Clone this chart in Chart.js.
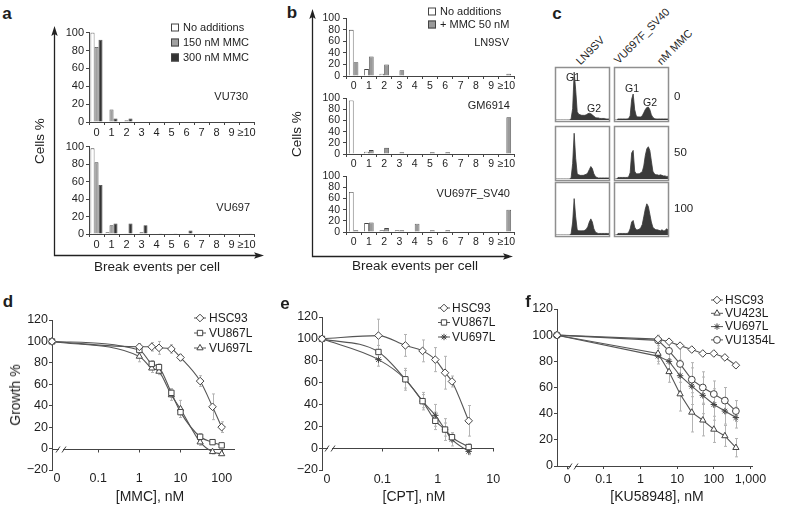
<!DOCTYPE html>
<html><head><meta charset="utf-8">
<script src="https://cdn.jsdelivr.net/npm/chart.js@4.4.1/dist/chart.umd.min.js"></script>
<style>
html,body{margin:0;padding:0;background:#fff;}
#fig{position:relative;width:788px;height:512px;overflow:hidden;font-family:"Liberation Sans",Arial,sans-serif;color:#1e1e1e;}
#fig canvas{position:absolute;}
.t{position:absolute;white-space:nowrap;line-height:1;}
.sw{display:inline-block;width:6px;height:6px;border:1px solid #444;margin-right:4px;vertical-align:-1px;}
</style></head><body><div id="fig"></div>
<script>
// ================= DATA =================
// Panels a & b: break events per cell (Cells %)
const breakCats = ['0','1','2','3','4','5','6','7','8','9','≥10'];
const aSeriesNames = ['No additions','150 nM MMC','300 nM MMC'];
const vu730NoAdd  = [100,0,0,0,0,0,0,0,0,0,0];
const vu730Mmc150 = [84,14,2,0,0,0,0,0,0,0,0];
const vu730Mmc300 = [92,4,4,0,0,0,0,0,0,0,0];
const vu697NoAdd  = [98,2,0,0,0,0,0,0,0,0,0];
const vu697Mmc150 = [82,10,1,2,0,0,0,0,0,0,1];
const vu697Mmc300 = [56,12,12,10,1,1,4,0,1,0,1];

const bSeriesNames = ['No additions','+ MMC 50 nM'];
const ln9svNoAdd   = [80,12,4,0,1,0,0,0,0,0,1];
const ln9svMmc50   = [24,34,20,10,1,1,0,1,1,0,4];
const gm6914NoAdd  = [96,4,0,0,0,0,0,0,0,0,0];
const gm6914Mmc50  = [0,7,11,3,1,3,3,0,0,0,66];
const vu697fNoAdd  = [72,16,3,3,1,0,0,0,0,0,1];
const vu697fMmc50  = [3,17,7,3,15,3,3,1,0,0,40];
const pctTicks = [0,20,40,60,80,100];

// Panel c: DNA content histograms (relative counts, 36 bins)
const cCellLines = ['LN9SV','VU697F_SV40'];
const cDoses = ['0','50','100'];
const histLn9sv0    = [0,0,0,0,0,0,0,0,0,0,3,22,92,58,16,11,10,9,9,9,10,12,13,12,10,7,5,4,4,3,3,3,3,2,2,2];
const histVu697f0   = [0,0,2,2,2,2,2,2,2,3,8,40,50,20,8,6,6,6,8,14,20,24,25,20,10,5,3,2,2,2,2,2,2,2,2,2];
const histLn9sv50   = [0,0,0,0,0,0,0,0,0,0,3,30,88,40,10,8,7,7,7,8,9,12,18,24,20,10,5,3,2,2,2,2,2,2,2,2];
const histVu697f50  = [0,0,3,3,3,3,3,3,3,4,12,50,55,15,10,10,10,12,14,25,45,58,62,55,35,15,10,8,8,7,8,7,6,6,5,5];
const histLn9sv100  = [0,0,0,0,0,0,0,0,0,0,3,25,70,35,10,8,8,8,8,9,11,16,25,31,25,12,6,4,3,3,3,3,3,3,3,3];
const histVu697f100 = [0,0,3,3,3,3,3,3,3,5,12,25,28,15,10,10,11,14,20,35,50,60,55,40,25,15,12,10,10,9,8,10,8,8,12,10];

// Panel d: MMC
const mmcDoses   = [0,1,2,3,6,10,30,60,100];
const mmcHSC93   = [100,95,95,94,93,85,63,39,20];
const mmcHSC93E  = [0,3,4,6,4,3,5,12,5];
const mmcVU867L  = [100,92,79,76,52,34,11,6,3];
const mmcVU867LE = [0,4,3,3,4,5,3,2,2];
const mmcVU697L  = [100,86,75,72,50,37,6,-3,-5];
const mmcVU697LE = [0,5,4,3,5,8,3,2,1];
const dTickVals = [0.01,0.1,1,10,100];
const dTickLabels = ['0','0.1','1','10','100'];

// Panel e: CPT
const cptDoses   = [0,0.085,0.26,0.53,0.9,1.35,1.8,3.6];
const cptHSC93   = [100,103,94,89,81,69,61,25];
const cptHSC93E  = [0,15,10,10,11,15,5,14];
const cptVU867L  = [100,88,63,43,25,17,10,1];
const cptVU867LE = [0,6,10,8,8,6,4,3];
const cptVU697L  = [100,81,63,43,30,17,8,-3];
const cptVU697LE = [0,6,8,6,10,10,6,3];
const eTickVals = [0.01,0.1,1,10];
const eTickLabels = ['0','0.1','1','10'];

// Panel f: KU58948
const kuDoses     = [0,3,6,12,25,50,100,200,400];
const kuHSC93     = [100,97,95,92,89,86,86,83,77];
const kuHSC93E    = [0,2,1,1,1,1,1,1,1];
const kuVU423L    = [100,86,72,55,41,35,28,23,14];
const kuVU423LE   = [0,6,8,13,15,12,10,8,7];
const kuVU697L    = [100,84,80,69,61,54,47,42,37];
const kuVU697LE   = [0,6,7,12,14,14,12,10,8];
const kuVU1354L   = [100,96,88,78,66,60,55,50,42];
const kuVU1354LE  = [0,4,6,14,13,12,10,10,8];
const fTickVals = [0.01,0.1,1,10,100,1000];
const fTickLabels = ['0','0.1','1','10','100','1,000'];

// ================= HELPERS =================
Chart.defaults.font.family = '"Liberation Sans", Arial, sans-serif';
Chart.defaults.color = '#1e1e1e';
const fig = document.getElementById('fig');

function txt(s, x, y, o = {}) {
  const d = document.createElement('div');
  d.className = 't';
  if (o.html) d.innerHTML = s; else d.textContent = s;
  d.style.fontSize = (o.size || 11) + 'px';
  if (o.bold) d.style.fontWeight = 'bold';
  d.style.left = x + 'px'; d.style.top = y + 'px';
  if (o.anchorStart) {
    d.style.transformOrigin = '0 50%';
    d.style.transform = `translate(0,-50%) rotate(${o.rot||0}deg)`;
  } else {
    const tx = o.align === 'center' ? '-50%' : o.align === 'right' ? '-100%' : '0';
    d.style.transform = `translate(${tx},-50%)` + (o.rot ? ` rotate(${o.rot}deg)` : '');
  }
  fig.appendChild(d);
  return d;
}

function place(area, pad) {
  const c = document.createElement('canvas');
  const w = pad.yw + (area[2] - area[0]) + pad.pr;
  const h = pad.pt + (area[3] - area[1]) + pad.xh;
  c.width = w; c.height = h;
  c.style.left = (area[0] - pad.yw) + 'px';
  c.style.top = (area[1] - pad.pt) + 'px';
  c.style.width = w + 'px'; c.style.height = h + 'px';
  fig.appendChild(c);
  return c;
}

function baseOpts(pad) {
  return {
    responsive: false, animation: false, devicePixelRatio: 1,
    layout: { padding: { left: 0, top: pad.pt, right: pad.pr, bottom: 0 }, autoPadding: false },
    plugins: { legend: { display: false }, tooltip: { enabled: false } },
    events: []
  };
}

// ---------- bar charts (a, b) ----------
function barChart(area, pad, series, fills, catPct, fontSize) {
  const c = place(area, pad);
  const o = baseOpts(pad);
  o.scales = {
    x: {
      grid: { display: true, drawOnChartArea: false, drawTicks: true, tickLength: 3, color: '#444', offset: true },
      border: { display: true, color: '#444', width: 1 },
      ticks: { font: { size: fontSize }, color: '#1e1e1e', padding: 1, maxRotation: 0, autoSkip: false },
      afterFit(s) { s.height = pad.xh; }
    },
    y: {
      min: 0, max: 100,
      afterBuildTicks(s) { s.ticks = pctTicks.map(v => ({ value: v })); },
      ticks: { font: { size: fontSize }, color: '#1e1e1e', padding: pad.tp, autoSkip: false },
      grid: { drawOnChartArea: false, drawTicks: true, tickLength: 3, color: '#444' },
      border: { display: true, color: '#444', width: 1 },
      afterFit(s) { s.width = pad.yw; }
    }
  };
  return new Chart(c, {
    type: 'bar',
    data: {
      labels: breakCats,
      datasets: series.map((d, i) => ({
        data: d, backgroundColor: fills[i], borderColor: '#444', borderWidth: 0.8,
        barPercentage: 1, categoryPercentage: catPct, borderSkipped: 'bottom'
      }))
    },
    options: o
  });
}

const aFills = ['#ffffff', '#a0a0a0', '#333333'];
const bFills = ['#ffffff', '#9a9a9a'];
const aPad = { yw: 30, pt: 8, pr: 4, xh: 18, tp: 2 };
barChart([89, 32, 254, 122], aPad, [vu730NoAdd, vu730Mmc150, vu730Mmc300], aFills, 0.8, 11);
barChart([89, 146, 254, 234], aPad, [vu697NoAdd, vu697Mmc150, vu697Mmc300], aFills, 0.8, 11);
const bPad = { yw: 30, pt: 6, pr: 4, xh: 16, tp: 3 };
barChart([346, 15, 514, 76], bPad, [ln9svNoAdd, ln9svMmc50], bFills, 0.62, 10.5);
barChart([346, 95, 514, 154], bPad, [gm6914NoAdd, gm6914Mmc50], bFills, 0.62, 10.5);
barChart([346, 173, 514, 232], bPad, [vu697fNoAdd, vu697fMmc50], bFills, 0.62, 10.5);

// ---------- histograms (c) ----------
const cBoxX = [555, 614], cBoxY = [67, 126, 182], cBoxW = 55, cBoxH = 55;
const histGrid = [[histLn9sv0, histVu697f0], [histLn9sv50, histVu697f50], [histLn9sv100, histVu697f100]];
histGrid.forEach((row, r) => row.forEach((h, col) => {
  const pad = { yw: 0, pt: 0, pr: 0, xh: 0 };
  const x0 = cBoxX[col] + 1, y0 = cBoxY[r] + 1;
  const c = place([x0, y0, x0 + cBoxW - 2, y0 + cBoxH - 3], pad);
  const o = baseOpts(pad);
  o.scales = {
    x: { type: 'linear', display: false, min: 0, max: h.length - 1, afterFit(s) { s.height = 0; } },
    y: { display: false, min: 0, max: 100, afterFit(s) { s.width = 0; } }
  };
  new Chart(c, {
    type: 'line',
    data: { datasets: [{ data: h.map((v, i) => ({ x: i, y: v })), fill: 'origin', backgroundColor: '#3a3a3a', borderColor: '#3a3a3a', borderWidth: 0.8, pointRadius: 0, tension: 0, clip: false }] },
    options: o
  });
}));

// ---------- line charts (d, e, f) ----------
const errBars = {
  id: 'errBars',
  beforeDatasetsDraw(chart) {
    const { ctx, scales: { x, y } } = chart;
    ctx.save();
    ctx.strokeStyle = '#b4b4b4'; ctx.lineWidth = 1;
    chart.data.datasets.forEach(ds => {
      if (!ds.errorBars) return;
      ds.data.forEach((p, j) => {
        const e = ds.errorBars[j]; if (!e) return;
        const px = Math.round(x.getPixelForValue(p.x)) + 0.5;
        const y1 = y.getPixelForValue(p.y - e), y2 = y.getPixelForValue(p.y + e);
        ctx.beginPath();
        ctx.moveTo(px, y1); ctx.lineTo(px, y2);
        ctx.moveTo(px - 1.5, y1); ctx.lineTo(px + 1.5, y1);
        ctx.moveTo(px - 1.5, y2); ctx.lineTo(px + 1.5, y2);
        ctx.stroke();
      });
    });
    ctx.restore();
  }
};
const zeroAxis = {
  id: 'zeroAxis',
  beforeDatasetsDraw(chart, args, o) {
    const { ctx, chartArea: a, scales: { x, y } } = chart;
    const y0 = Math.round(y.getPixelForValue(0)) + 0.5;
    ctx.save();
    ctx.strokeStyle = '#444'; ctx.lineWidth = 1;
    ctx.beginPath();
    if (o.drawLine) {
      ctx.moveTo(a.left, y0); ctx.lineTo(a.right, y0);
      o.ticks.forEach(v => { if (v === o.skip) return; const px = Math.round(x.getPixelForValue(v)) + 0.5; ctx.moveTo(px, y0); ctx.lineTo(px, y0 + 3); });
    }
    ctx.stroke();
    const bx = a.left + o.breakOffset;
    ctx.fillStyle = '#fff'; ctx.fillRect(bx - 2, y0 - 2, 4, 4);
    ctx.beginPath();
    ctx.moveTo(bx - 5, y0 + 3); ctx.lineTo(bx - 1, y0 - 3);
    ctx.moveTo(bx + 1, y0 + 3); ctx.lineTo(bx + 5, y0 - 3);
    ctx.stroke();
    ctx.restore();
  }
};
const lineLegend = {
  id: 'lineLegend',
  afterDraw(chart, args, o) {
    const ctx = chart.ctx;
    chart.data.datasets.forEach((ds, i) => {
      const x = o.x, y = o.y + i * o.dy;
      ctx.save();
      ctx.strokeStyle = '#555'; ctx.lineWidth = 1;
      ctx.beginPath(); ctx.moveTo(x - 6, y); ctx.lineTo(x + 6, y); ctx.stroke();
      ctx.fillStyle = '#fff'; ctx.strokeStyle = ds.pointBorderColor;
      Chart.helpers.drawPoint(ctx, { pointStyle: ds.pointStyle, radius: ds.pointRadius, rotation: 0, borderWidth: 1 }, x, y);
      ctx.fillStyle = '#1e1e1e'; ctx.font = o.font; ctx.textBaseline = 'middle'; ctx.textAlign = 'left';
      ctx.fillText(ds.label, x + o.gap, y + 0.5);
      ctx.restore();
    });
  }
};

const styles = {
  diamond: { pointStyle: 'rectRot', pointRadius: 3.8 },
  square: { pointStyle: 'rect', pointRadius: 3.8 },
  triangle: { pointStyle: 'triangle', pointRadius: 3.6 },
  star: { pointStyle: 'star', pointRadius: 3.2 },
  circle: { pointStyle: 'circle', pointRadius: 3.4 }
};

function doseChart(cfg) {
  const c = place(cfg.area, cfg.pad);
  const o = baseOpts(cfg.pad);
  o.plugins.zeroAxis = cfg.zero;
  o.plugins.lineLegend = cfg.legend;
  o.scales = {
    x: {
      type: 'logarithmic', min: cfg.xmin, max: cfg.xmax,
      afterBuildTicks(s) { s.ticks = cfg.tickVals.map(v => ({ value: v })); },
      ticks: { callback: (v, i) => cfg.tickLabels[i], autoSkip: false, maxRotation: 0, font: { size: 12.5 }, color: '#1e1e1e', padding: cfg.xPad },
      grid: cfg.xAxisLine ? { display: true, drawOnChartArea: false, drawTicks: true, tickLength: 3, color: '#444' } : { display: false, drawTicks: false },
      border: { display: !!cfg.xAxisLine, color: '#444' },
      afterFit(s) { s.height = cfg.pad.xh; }
    },
    y: {
      min: cfg.ymin, max: cfg.ymax,
      ticks: { stepSize: 20, font: { size: 12.5 }, color: '#1e1e1e', padding: 1, callback: v => String(v).replace('-', '−') },
      grid: { drawOnChartArea: false, drawTicks: true, tickLength: 3, color: '#444' },
      border: { display: true, color: '#444' },
      afterFit(s) { s.width = cfg.pad.yw; }
    }
  };
  const datasets = cfg.series.map(s => Object.assign({
    label: s.name,
    data: cfg.doses.map((d, i) => ({ x: d === 0 ? cfg.xmin : d, y: s.values[i] })),
    errorBars: s.err,
    showLine: true,
    borderColor: '#555', borderWidth: 1.1,
    pointBackgroundColor: '#fff', pointBorderColor: '#444', pointBorderWidth: 1,
    cubicInterpolationMode: cfg.smooth ? 'monotone' : 'default', tension: 0,
    clip: false
  }, styles[s.marker]));
  new Chart(c, { type: 'scatter', data: { datasets }, options: o, plugins: [errBars, zeroAxis, lineLegend] });
}

doseChart({
  area: [52, 320, 235, 470], pad: { yw: 32, pt: 25, pr: 30, xh: 25 },
  xmin: 0.00755, xmax: 211, ymin: -20, ymax: 120, xPad: 1, smooth: true,
  tickVals: dTickVals, tickLabels: dTickLabels, doses: mmcDoses,
  zero: { drawLine: true, ticks: dTickVals, skip: 0.01, breakOffset: 9 },
  legend: { x: 180, y: 23, dy: 15, gap: 9, font: '12px "Liberation Sans", Arial, sans-serif' },
  series: [
    { name: 'HSC93', values: mmcHSC93, err: mmcHSC93E, marker: 'diamond' },
    { name: 'VU867L', values: mmcVU867L, err: mmcVU867LE, marker: 'square' },
    { name: 'VU697L', values: mmcVU697L, err: mmcVU697LE, marker: 'triangle' }
  ]
});
doseChart({
  area: [322, 317, 494, 470], pad: { yw: 32, pt: 22, pr: 30, xh: 25 },
  xmin: 0.00816, xmax: 10.3, ymin: -20, ymax: 120, xPad: 2, smooth: true,
  tickVals: eTickVals, tickLabels: eTickLabels, doses: cptDoses,
  zero: { drawLine: true, ticks: eTickVals, skip: 0.01, breakOffset: 8 },
  legend: { x: 154, y: 13, dy: 14.5, gap: 8, font: '12px "Liberation Sans", Arial, sans-serif' },
  series: [
    { name: 'HSC93', values: cptHSC93, err: cptHSC93E, marker: 'diamond' },
    { name: 'VU867L', values: cptVU867L, err: cptVU867LE, marker: 'square' },
    { name: 'VU697L', values: cptVU697L, err: cptVU697LE, marker: 'star' }
  ]
});
doseChart({
  area: [557, 309, 752, 466], pad: { yw: 32, pt: 19, pr: 36, xh: 25 },
  xmin: 0.00527, xmax: 1100, ymin: 0, ymax: 120, xPad: 3, smooth: false, xAxisLine: true,
  tickVals: fTickVals, tickLabels: fTickLabels, doses: kuDoses,
  zero: { drawLine: false, ticks: fTickVals, skip: 0.01, breakOffset: 16 },
  legend: { x: 192, y: 10, dy: 13.3, gap: 8, font: '12px "Liberation Sans", Arial, sans-serif' },
  series: [
    { name: 'HSC93', values: kuHSC93, err: kuHSC93E, marker: 'diamond' },
    { name: 'VU423L', values: kuVU423L, err: kuVU423LE, marker: 'triangle' },
    { name: 'VU697L', values: kuVU697L, err: kuVU697LE, marker: 'star' },
    { name: 'VU1354L', values: kuVU1354L, err: kuVU1354LE, marker: 'circle' }
  ]
});

// ================= TEXT =================
txt('a', 7, 13, { size: 17, bold: true, align: 'center' });
txt('b', 292, 12, { size: 17, bold: true, align: 'center' });
txt('c', 557, 13, { size: 17, bold: true, align: 'center' });
txt('d', 8, 301, { size: 17, bold: true, align: 'center' });
txt('e', 285, 303, { size: 17, bold: true, align: 'center' });
txt('f', 528, 301, { size: 17, bold: true, align: 'center' });

// legends a & b
aSeriesNames.forEach((n, i) => txt(`<span class="sw" style="background:${aFills[i]}"></span>${n}`, 171, 27 + i * 15, { size: 11, html: true }));
bSeriesNames.forEach((n, i) => txt(`<span class="sw" style="background:${bFills[i]}"></span>${n}`, 428, 11 + i * 13, { size: 11, html: true }));

txt('VU730', 248, 96, { size: 11, align: 'right' });
txt('VU697', 250, 207, { size: 11, align: 'right' });
txt('LN9SV', 509, 42, { size: 11, align: 'right' });
txt('GM6914', 510, 105, { size: 11, align: 'right' });
txt('VU697F_SV40', 510, 193, { size: 11, align: 'right' });

txt('Cells %', 40, 141, { size: 13.5, align: 'center', rot: -90 });
txt('Cells %', 297, 134, { size: 13.5, align: 'center', rot: -90 });
txt('Break events per cell', 157, 267, { size: 13.5, align: 'center' });
txt('Break events per cell', 415, 266, { size: 13.5, align: 'center' });

// panel c labels
txt(cCellLines[0], 578, 63, { size: 11, rot: -45, anchorStart: true });
txt(cCellLines[1], 616, 62, { size: 11, rot: -45, anchorStart: true });
txt('nM MMC', 659, 63, { size: 11, rot: -45, anchorStart: true });
cDoses.forEach((d, i) => txt(d, 674, [97, 153, 209][i], { size: 11.5 }));
txt('G1', 573, 77, { size: 10.5, align: 'center' });
txt('G2', 594, 108, { size: 10.5, align: 'center' });
txt('G1', 632, 88, { size: 10.5, align: 'center' });
txt('G2', 650, 102, { size: 10.5, align: 'center' });

txt('Growth %', 15, 395, { size: 14, align: 'center', rot: -90 });
txt('[MMC], nM', 150, 496, { size: 14, align: 'center' });
txt('[CPT], nM', 414, 496, { size: 14, align: 'center' });
txt('[KU58948], nM', 657, 496, { size: 14, align: 'center' });

// ================= OVERLAY (arrows, c boxes) =================
const NS = 'http://www.w3.org/2000/svg';
const svg = document.createElementNS(NS, 'svg');
svg.setAttribute('width', 788); svg.setAttribute('height', 512);
svg.style.position = 'absolute'; svg.style.left = '0'; svg.style.top = '0';
function el(tag, attrs) { const e = document.createElementNS(NS, tag); for (const k in attrs) e.setAttribute(k, attrs[k]); svg.appendChild(e); return e; }
function axisArrows(cx, cy, topY, rightX) {
  el('path', { d: `M${cx},${topY + 8} L${cx},${cy} L${rightX - 8},${cy}`, fill: 'none', stroke: '#222', 'stroke-width': 1.3 });
  el('path', { d: `M${cx},${topY} L${cx - 3.2},${topY + 10} L${cx},${topY + 8} L${cx + 3.2},${topY + 10} Z`, fill: '#222' });
  el('path', { d: `M${rightX},${cy} L${rightX - 10},${cy - 3.2} L${rightX - 8},${cy} L${rightX - 10},${cy + 3.2} Z`, fill: '#222' });
}
axisArrows(54.5, 255.5, 26, 264);
axisArrows(312.5, 256.5, 9, 513);
cBoxY.forEach(y => cBoxX.forEach(x => el('rect', { x: x + 0.5, y: y + 0.5, width: cBoxW - 1, height: cBoxH - 1, fill: 'none', stroke: '#8f8f8f', 'stroke-width': 1.5 })));
fig.appendChild(svg);
</script>
</body></html>
